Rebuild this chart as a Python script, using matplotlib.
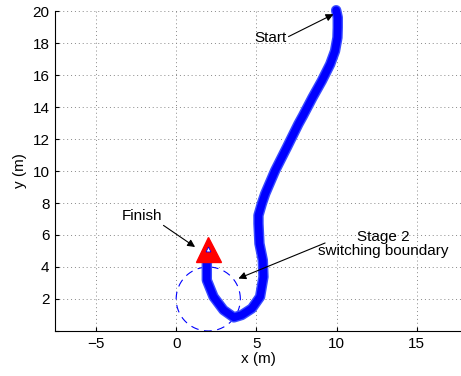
import matplotlib
matplotlib.use('Agg')
import matplotlib.pyplot as plt
import numpy as np

# trajectory (m)
path_x = [9.97, 10.07, 10.07, 10.05, 9.9, 9.6, 9.08, 8.5, 7.9, 7.62, 6.9,
          6.17, 5.55, 5.34, 5.13, 5.13, 5.19, 5.4, 5.44, 5.23, 4.72, 4.09, 3.6,
          2.95, 2.33, 1.91, 1.91, 2.01]
path_y = [20.05, 19.6, 18.96, 18.34, 17.5, 16.68, 15.64, 14.6, 13.45, 12.94,
          11.48, 10.03, 8.58, 7.96, 7.23, 6.71, 5.46, 4.42, 3.38, 2.14, 1.41, 1.0,
          0.85, 1.31, 2.14, 3.18, 4.22, 4.73]
finish = (2.0, 5.15)
circle_c = (2.0, 2.0)
circle_r = 2.0

plt.rcParams['font.family'] = ['Liberation Sans', 'DejaVu Sans']

fig = plt.figure(figsize=(4.61, 3.76), dpi=100)
ax = fig.add_axes([0.1193, 0.1197, 0.8807, 0.851])

th = np.linspace(0, 2 * np.pi, 200)
ax.plot(circle_c[0] + circle_r * np.cos(th), circle_c[1] + circle_r * np.sin(th),
        color='#0000ff', lw=0.8, ls=(0, (7, 5)), zorder=2)

ax.plot(path_x, path_y, color='#3a4cff', lw=7.5, solid_capstyle='round',
        solid_joinstyle='round', zorder=3, clip_on=False)
ax.plot(path_x, path_y, color='#0000ff', lw=5.5, solid_capstyle='round',
        solid_joinstyle='round', zorder=3, clip_on=False)

ax.plot([finish[0]], [finish[1]], marker='^', ms=18, color='#ff0000',
        mec='#ff0000', zorder=4)
ax.plot([finish[0]], [finish[1] - 0.05], marker='^', ms=3.5, color='white',
        mec='#0000ff', mew=0.6, zorder=5)

aprops = dict(arrowstyle='-|>', color='black', lw=0.8, mutation_scale=11,
              shrinkA=0, shrinkB=0)
ax.annotate('', xy=(9.8, 19.8), xytext=(7.0, 18.4), arrowprops=aprops)
ax.text(5.86, 18.3, 'Start', ha='center', va='center', fontsize=11)

ax.annotate('', xy=(1.18, 5.25), xytext=(-0.79, 6.6), arrowprops=aprops)
ax.text(-2.14, 7.17, 'Finish', ha='center', va='center', fontsize=11)

ax.annotate('', xy=(3.88, 3.28), xytext=(9.28, 5.5), arrowprops=aprops)
ax.text(12.9, 5.46, 'Stage 2\nswitching boundary', ha='center', va='center',
        fontsize=11, linespacing=1.0)

ax.set_xlim(-7.55, 17.75)
ax.set_ylim(0, 20)
ax.set_xticks([-5, 0, 5, 10, 15])
ax.set_xticklabels(['\u22125', '0', '5', '10', '15'])
ax.set_yticks(range(0, 21, 2))
ax.set_yticklabels([''] + [str(v) for v in range(2, 21, 2)])
ax.grid(True, color='#888888', ls=(0, (1, 3)), lw=0.7)
ax.set_axisbelow(True)
for s in ('top', 'right'):
    ax.spines[s].set_visible(False)
ax.spines['left'].set_linewidth(0.8)
ax.spines['bottom'].set_linewidth(0.8)
ax.tick_params(direction='in', length=3, labelsize=11, pad=4)
ax.set_xlabel('x (m)', fontsize=11, labelpad=1)
ax.set_ylabel('y (m)', fontsize=11, labelpad=4)

fig.savefig('out.png', dpi=100)
